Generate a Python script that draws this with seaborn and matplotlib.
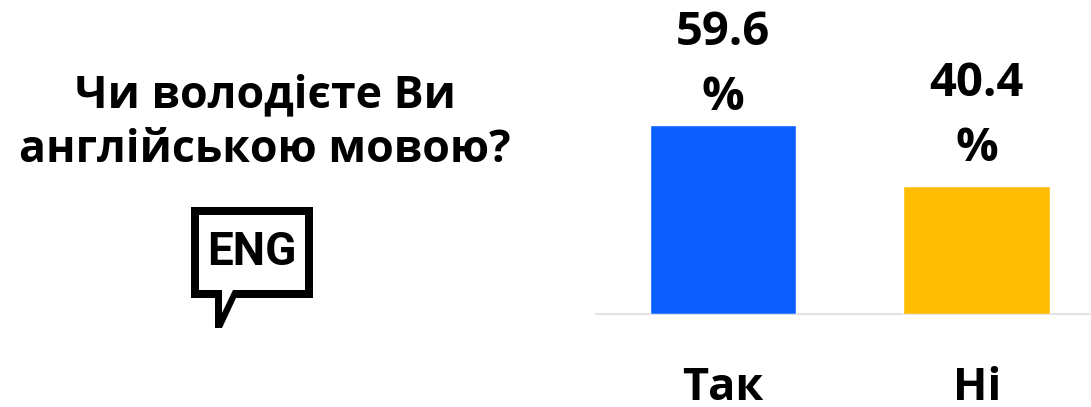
import matplotlib
matplotlib.use('Agg')
import matplotlib.pyplot as plt
import seaborn as sns
import pandas as pd
from matplotlib.patches import Polygon

answers = ['Так', 'Ні']
shares = [59.6, 40.4]
bar_colors = ['#0b5fff', '#ffbc00']
share_labels = ['59.6\n%', '40.4\n%']
label_pads = [3, 10]
question = 'Чи володієте Ви\nанглійською мовою?'
icon_text = 'ENG'

W, H = 1091, 407

sns.set_theme(style='white')
plt.rcParams['font.family'] = ['Open Sans', 'Noto Sans', 'DejaVu Sans']

fig = plt.figure(figsize=(W / 100, H / 100), dpi=100)
ax = fig.add_axes([596 / W, (H - 313.7) / H, (W - 596) / W, 313.7 / H])

df = pd.DataFrame({'answer': answers, 'share': shares})
sns.barplot(data=df, x='answer', y='share', hue='answer', palette=bar_colors,
            width=0.578, saturation=1, legend=False, ax=ax)
ax.set_xlim(-0.5, 1.45)
ax.set_ylim(0, 313.7 / 3.17)
ax.set_xlabel('')
ax.set_ylabel('')
ax.set_yticks([])
ax.tick_params(axis='x', length=0, pad=38, labelsize=32.5, labelcolor='black')
for t in ax.get_xticklabels():
    t.set_fontweight('bold')
sns.despine(ax=ax, left=True)
ax.spines['bottom'].set_color('#e2e2e2')
ax.spines['bottom'].set_linewidth(1.5)
ax.spines['bottom'].set_zorder(0.5)
ax.patch.set_alpha(0)

for container, lab, pad in zip(ax.containers, share_labels, label_pads):
    ax.bar_label(container, labels=[lab], padding=pad, fontsize=34, fontweight='bold',
                 color='black', linespacing=1.48, clip_on=False)

# question and speech bubble, laid out in pixels
over = fig.add_axes([0, 0, 1, 1])
over.set_xlim(0, W)
over.set_ylim(H, 0)
over.axis('off')
over.patch.set_alpha(0)
over.text(265, 123, question, ha='center', va='center', fontsize=32.2, fontweight='bold',
          color='black', linespacing=1.28)
over.add_patch(Polygon([(191, 207), (313, 207), (313, 298), (236, 298), (222, 328),
                        (215, 328), (215, 298), (191, 298)], closed=True, fc='black', ec='none'))
over.add_patch(Polygon([(199, 215), (305, 215), (305, 290), (233, 290), (222, 313),
                        (222, 290), (199, 290)], closed=True, fc='white', ec='none'))
over.text(252, 252, icon_text, ha='center', va='center', fontsize=33, fontweight='bold',
          family=['Roboto', 'DejaVu Sans'], color='black')

fig.savefig('out.png', dpi=100)
